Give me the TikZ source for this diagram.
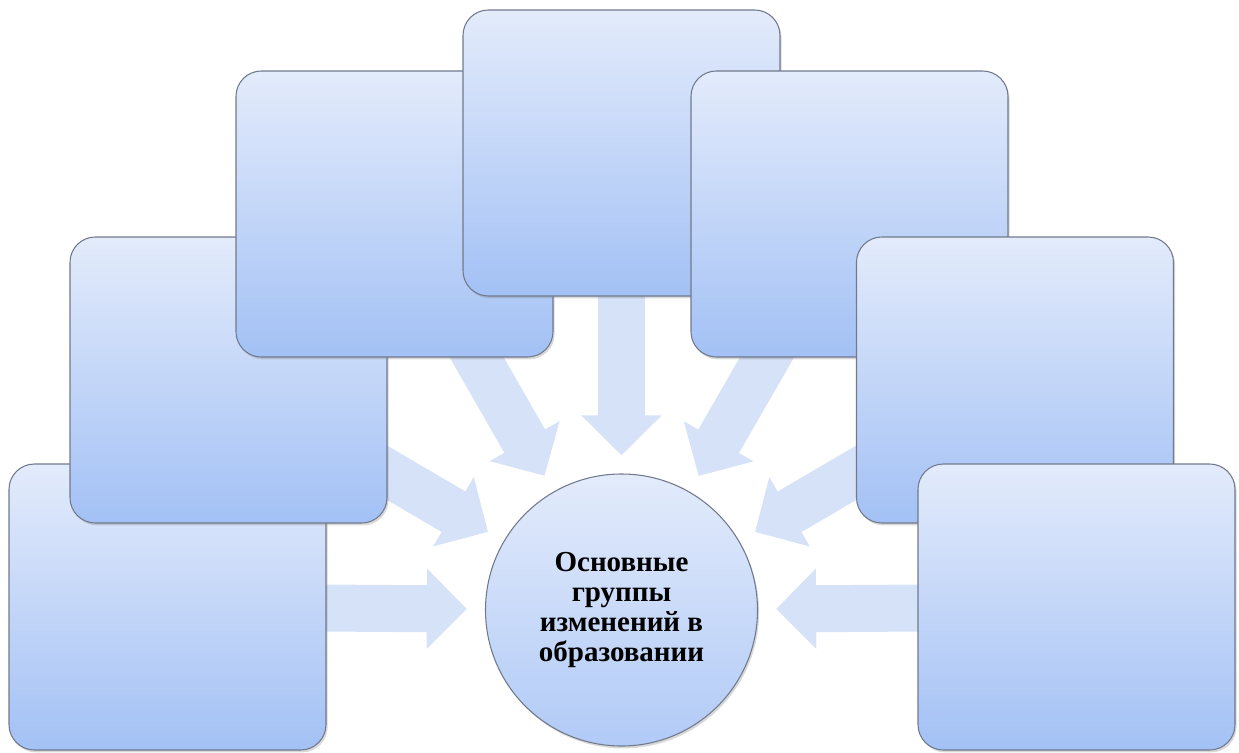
\documentclass[tikz,border=0pt]{standalone}
\usepackage{fontspec}
\setmainfont{Liberation Serif}
\usetikzlibrary{arrows.meta,calc,shadows}
\pgfdeclarelayer{background}
\pgfsetlayers{background,main}
\definecolor{boxtop}{RGB}{227,235,251}
\definecolor{boxmid}{RGB}{203,219,249}
\definecolor{boxbot}{RGB}{163,193,245}
\definecolor{boxline}{RGB}{112,122,140}
\definecolor{arrowfill}{RGB}{214,226,248}

\begin{document}
\begin{tikzpicture}[x=0.75pt,y=-0.75pt,
	grp/.style={draw=boxline, line width=0.8pt, rounded corners=19pt,
		minimum width=237.75pt, minimum height=214.5pt, inner sep=0pt,
		top color=boxtop, middle color=boxmid, bottom color=boxbot,
		drop shadow={opacity=0.3, shadow xshift=1.2pt, shadow yshift=-1.8pt}},
	hub/.style={draw=boxline, line width=0.8pt, circle, minimum size=204pt, inner sep=0pt,
		top color=boxtop, bottom color=boxbot!85!white, align=center,
		font=\bfseries\fontsize{21.75}{22.5}\selectfont,
		drop shadow={opacity=0.3, shadow xshift=1.2pt, shadow yshift=-1.8pt}},
	into/.style={draw=arrowfill, line width=35.25pt,
		-{Triangle[width=58.5pt, length=30pt]}}]
	\def \tipdist{ 116pt };
	\useasboundingbox (0,0) rectangle (1239,753);
	% boxes, back to front
	\node[grp] (1) at (167.5,607) {};
	\node[grp] (2) at (228.5,380) {};
	\node[grp] (3) at (394.5,214) {};
	\node[grp] (4) at (621.5,153) {};
	\node[grp] (5) at (849.5,214) {};
	\node[grp] (6) at (1015,380) {};
	\node[grp] (7) at (1076.5,607) {};
	\node[hub] (0) at (621.5,610) {Основные\\группы\\изменений в\\образовании};
	% arrows behind the boxes
	\begin{pgfonlayer}{background}
	\draw[into] (1.center) -- ($(0.center)!\tipdist!(1.center)$);
	\draw[into] (2.center) -- ($(0.center)!\tipdist!(2.center)$);
	\draw[into] (3.center) -- ($(0.center)!\tipdist!(3.center)$);
	\draw[into] (4.center) -- ($(0.center)!\tipdist!(4.center)$);
	\draw[into] (5.center) -- ($(0.center)!\tipdist!(5.center)$);
	\draw[into] (6.center) -- ($(0.center)!\tipdist!(6.center)$);
	\draw[into] (7.center) -- ($(0.center)!\tipdist!(7.center)$);
	\end{pgfonlayer}
\end{tikzpicture}
\end{document}
